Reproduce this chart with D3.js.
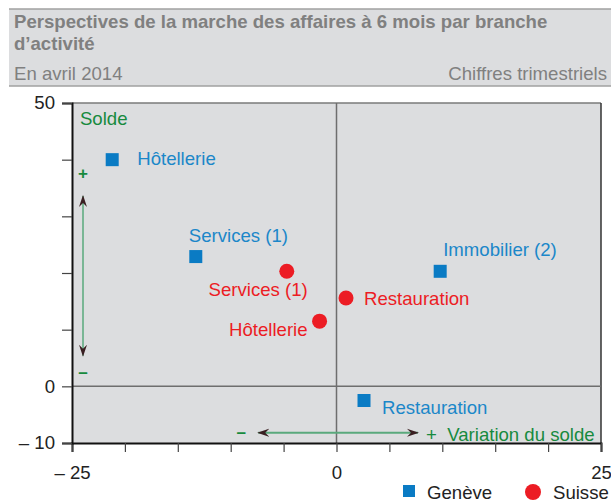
<!DOCTYPE html>
<html>
<head>
<meta charset="utf-8">
<script src="https://cdn.jsdelivr.net/npm/d3@7"></script>
<style>
  html, body { margin: 0; padding: 0; background: #fff; }
  svg { display: block; font-family: 'Liberation Sans', Arial, sans-serif; }
</style>
</head>
<body>
<svg id="chart"></svg>
<script>
// données
const branchesGeneve = ['Hôtellerie', 'Services (1)', 'Immobilier (2)', 'Restauration'];
const variationGeneve = [-21.2, -13.3, 9.8, 2.6];
const soldeGeneve = [40.0, 22.9, 20.3, -2.5];

const branchesSuisse = ['Services (1)', 'Restauration', 'Hôtellerie'];
const variationSuisse = [-4.7, 0.9, -1.6];
const soldeSuisse = [20.3, 15.6, 11.5];

const xTicks = [-25, -20, -15, -10, -5, 0, 5, 10, 15, 20, 25];
const xTickLabels = ['– 25', '', '', '', '', '0', '', '', '', '', '25'];
const yTicks = [-10, 0, 10, 20, 30, 40, 50];
const yTickLabels = ['– 10', '0', '', '', '', '', '50'];

const seriesNames = ['Genève', 'Suisse'];

// décalage des étiquettes (px) : [dx, dy, ancre]
const labelOffsetGeneve = [[25, 5, 'start'], [-7, -15, 'start'], [3, -15, 'start'], [18, 13, 'start']];
const labelOffsetSuisse = [[21, 25, 'end'], [18, 7, 'start'], [-12, 15, 'end']];

const width = 611;
const height = 502;
const margin = { top: 103, right: 10, bottom: 59, left: 72 };

const BLUE = '#0a7bc4';
const BLUE_TXT = '#1b87c9';
const RED = '#ec1c24';
const GREEN = '#178a3e';
const GREEN_LINE = '#5aa97c';
const GREY_BG = '#dcdddf';
const FS = 18.6;

const svg = d3.select('#chart').attr('width', width).attr('height', height).attr('viewBox', [0, 0, width, height]);

/**
 * en-tête
 */
const header = svg.append('g');
header.append('rect').attr('x', 9).attr('y', 9).attr('width', width - 9).attr('height', 77).attr('fill', GREY_BG);
header.append('line').attr('x1', 9).attr('x2', width).attr('y1', 9).attr('y2', 9).attr('stroke', '#a0a0a0').attr('stroke-width', 1.5);
header.append('line').attr('x1', 9).attr('x2', width).attr('y1', 86).attr('y2', 86).attr('stroke', '#a0a0a0').attr('stroke-width', 1.5);
header.append('text').attr('x', 14).attr('y', 28).attr('fill', '#808080').attr('font-weight', 'bold').attr('font-size', FS)
  .text('Perspectives de la marche des affaires à 6 mois par branche');
header.append('text').attr('x', 14).attr('y', 50).attr('fill', '#808080').attr('font-weight', 'bold').attr('font-size', FS)
  .text('d’activité');
header.append('text').attr('x', 14).attr('y', 80).attr('fill', '#808080').attr('font-size', FS).text('En avril 2014');
header.append('text').attr('x', 607).attr('y', 80).attr('fill', '#808080').attr('font-size', FS).attr('text-anchor', 'end')
  .text('Chiffres trimestriels');

/**
 * échelles
 */
const x = d3.scaleLinear([-25, 25], [margin.left, width - margin.right]);
const y = d3.scaleLinear([-10, 50], [height - margin.bottom, margin.top]);

const plot = svg.append('g');
plot.append('rect')
  .attr('x', x(-25)).attr('y', y(50))
  .attr('width', x(25) - x(-25)).attr('height', y(-10) - y(50))
  .attr('fill', GREY_BG);
plot.append('line').attr('x1', x(-25)).attr('x2', x(25)).attr('y1', y(50)).attr('y2', y(50)).attr('stroke', '#7a7a7a').attr('stroke-width', 1.5);
plot.append('line').attr('x1', x(25)).attr('x2', x(25)).attr('y1', y(50)).attr('y2', y(-10)).attr('stroke', '#333').attr('stroke-width', 1.5);
// lignes zéro
plot.append('line').attr('x1', x(0)).attr('x2', x(0)).attr('y1', y(50)).attr('y2', y(-10)).attr('stroke', '#6e6e6e').attr('stroke-width', 1.5);
plot.append('line').attr('x1', x(-25)).attr('x2', x(25)).attr('y1', y(0)).attr('y2', y(0)).attr('stroke', '#6e6e6e').attr('stroke-width', 1.5);

/**
 * axes
 */
const xAxis = d3.axisBottom(x).tickValues(xTicks).tickSize(9).tickPadding(14)
  .tickFormat((d, i) => xTickLabels[i]);
svg.append('g')
  .attr('transform', `translate(0,${y(-10)})`)
  .call(xAxis)
  .call((g) => g.select('.domain').attr('stroke', '#111').attr('stroke-width', 2))
  .call((g) => g.selectAll('.tick line').attr('stroke', '#444').attr('stroke-width', 1.2))
  .call((g) => g.selectAll('.tick text').attr('font-size', FS).attr('fill', '#222').attr('font-family', null)
    .style('white-space', 'pre'));

const yAxis = d3.axisLeft(y).tickValues(yTicks).tickSize(10).tickPadding(7)
  .tickFormat((d, i) => yTickLabels[i]);
svg.append('g')
  .attr('transform', `translate(${x(-25)},0)`)
  .call(yAxis)
  .call((g) => g.select('.domain').attr('stroke', '#111').attr('stroke-width', 2))
  .call((g) => g.selectAll('.tick line').attr('stroke', '#444').attr('stroke-width', 1.2))
  .call((g) => g.selectAll('.tick text').attr('font-size', FS).attr('fill', '#222').attr('font-family', null)
    .style('white-space', 'pre'));

/**
 * annotations vertes
 */
svg.append('defs').append('marker')
  .attr('id', 'tip')
  .attr('viewBox', '0 -5 12 10')
  .attr('refX', 11).attr('refY', 0)
  .attr('markerWidth', 12).attr('markerHeight', 10)
  .attr('markerUnits', 'userSpaceOnUse')
  .attr('orient', 'auto-start-reverse')
  .append('path')
  .attr('d', 'M0,-4L12,0L0,4L4,0Z')
  .attr('fill', '#3a1f22');

const notes = svg.append('g').attr('fill', GREEN).attr('font-size', FS);
notes.append('text').attr('x', x(-24.25)).attr('y', y(46.1)).text('Solde');
notes.append('text').attr('x', x(-23.96)).attr('y', y(36.6)).attr('text-anchor', 'middle').attr('font-size', 17).attr('font-weight', 'bold').text('+');
notes.append('text').attr('x', x(-23.96)).attr('y', y(1.5)).attr('text-anchor', 'middle').attr('font-size', 17).attr('font-weight', 'bold').text('–');
notes.append('line')
  .attr('x1', x(-23.96)).attr('x2', x(-23.96)).attr('y1', y(33.6)).attr('y2', y(5.4))
  .attr('stroke', GREEN_LINE).attr('stroke-width', 1.5)
  .attr('marker-start', 'url(#tip)').attr('marker-end', 'url(#tip)');
notes.append('line')
  .attr('x1', x(-7.4)).attr('x2', x(7.7)).attr('y1', y(-8.2)).attr('y2', y(-8.2))
  .attr('stroke', GREEN_LINE).attr('stroke-width', 2)
  .attr('marker-start', 'url(#tip)').attr('marker-end', 'url(#tip)');
notes.append('text').attr('x', x(-9.0)).attr('y', y(-9.1)).attr('text-anchor', 'middle').attr('font-size', 17).attr('font-weight', 'bold').text('–');
notes.append('text').attr('x', x(8.46)).attr('y', y(-9.7)).style('white-space', 'pre').text('+  Variation du solde');

/**
 * points
 */
const pts = svg.append('g');
const geneve = branchesGeneve.map((name, i) => ({ name, vx: variationGeneve[i], vy: soldeGeneve[i], off: labelOffsetGeneve[i] }));
const suisse = branchesSuisse.map((name, i) => ({ name, vx: variationSuisse[i], vy: soldeSuisse[i], off: labelOffsetSuisse[i] }));

const sq = 13;
pts.selectAll('rect.ge').data(geneve).join('rect')
  .attr('class', 'ge')
  .attr('x', (d) => x(d.vx) - sq / 2).attr('y', (d) => y(d.vy) - sq / 2)
  .attr('width', sq).attr('height', sq).attr('fill', BLUE);
pts.selectAll('text.ge').data(geneve).join('text')
  .attr('class', 'ge')
  .attr('x', (d) => x(d.vx) + d.off[0]).attr('y', (d) => y(d.vy) + d.off[1])
  .attr('text-anchor', (d) => d.off[2])
  .attr('font-size', FS).attr('fill', BLUE_TXT)
  .text((d) => d.name);

pts.selectAll('circle.ch').data(suisse).join('circle')
  .attr('class', 'ch')
  .attr('cx', (d) => x(d.vx)).attr('cy', (d) => y(d.vy))
  .attr('r', 7.5).attr('fill', RED);
pts.selectAll('text.ch').data(suisse).join('text')
  .attr('class', 'ch')
  .attr('x', (d) => x(d.vx) + d.off[0]).attr('y', (d) => y(d.vy) + d.off[1])
  .attr('text-anchor', (d) => d.off[2])
  .attr('font-size', FS).attr('fill', RED)
  .text((d) => d.name);

/**
 * légende
 */
const legend = svg.append('g').attr('font-size', FS).attr('fill', '#222');
legend.append('rect').attr('x', 403).attr('y', 485).attr('width', 12).attr('height', 12).attr('fill', BLUE);
legend.append('text').attr('x', 427).attr('y', 499).text(seriesNames[0]);
legend.append('circle').attr('cx', 533).attr('cy', 492).attr('r', 8).attr('fill', RED);
legend.append('text').attr('x', 553).attr('y', 499).text(seriesNames[1]);
</script>
</body>
</html>
